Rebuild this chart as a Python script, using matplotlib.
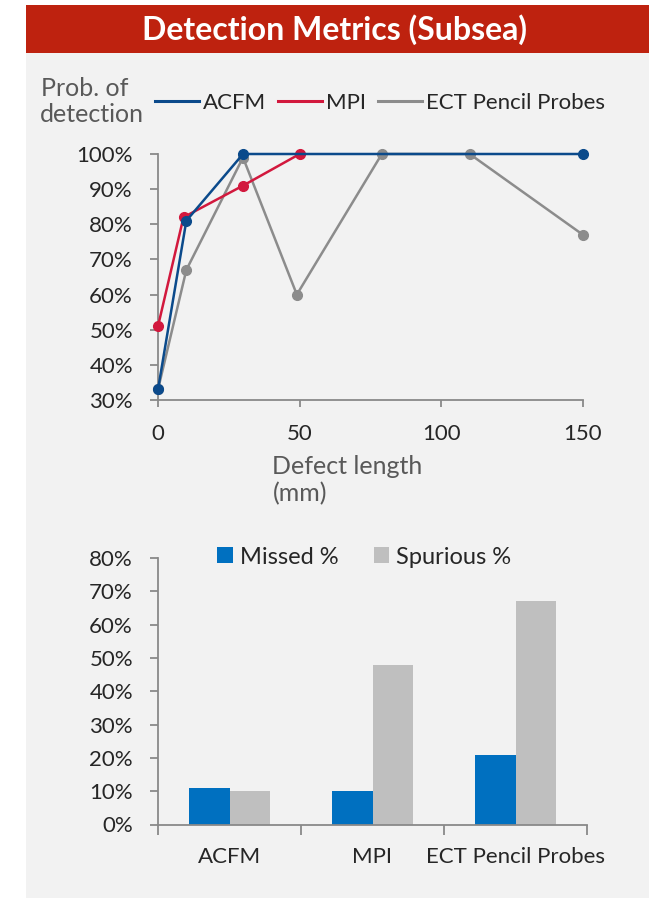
import matplotlib.pyplot as plt
from matplotlib.lines import Line2D
from matplotlib.patches import Rectangle
from matplotlib.ticker import PercentFormatter, FixedLocator

plt.rcParams['font.family'] = ['Lato', 'DejaVu Sans']

# probability of detection vs defect length
acfm_x = [0, 10, 30, 150]
acfm_y = [0.33, 0.81, 1.00, 1.00]
mpi_x = [0, 9, 30, 50]
mpi_y = [0.51, 0.82, 0.91, 1.00]
ect_x = [0, 10, 30, 49, 79, 110, 150]
ect_y = [0.33, 0.67, 0.99, 0.60, 1.00, 1.00, 0.77]

# missed / spurious rates per method
methods = ['ACFM', 'MPI', 'ECT Pencil Probes']
missed = [0.11, 0.10, 0.21]
spurious = [0.10, 0.48, 0.67]

c_acfm = '#0B4A8B'
c_mpi = '#D2183D'
c_ect = '#8C8C8C'
c_missed = '#0070C0'
c_spur = '#BFBFBF'
bg = '#F2F2F2'
axc = '#898989'
txt = '#262626'
lbl = '#595959'

fig = plt.figure(figsize=(6.49, 8.99), dpi=100)
fig.patch.set_facecolor('white')

# panel background and red header
fig.patches.append(Rectangle((26/649, 1-898/899), 623/649, 846/899,
                             transform=fig.transFigure, facecolor=bg,
                             edgecolor='none', zorder=-10))
fig.patches.append(Rectangle((26/649, 1-53/899), 623/649, 48/899,
                             transform=fig.transFigure, facecolor='#BE220F',
                             edgecolor='none', zorder=-10))
fig.text(334/649, 1-30/899, 'Detection Metrics (Subsea)', color='white',
         fontsize=23, fontweight='bold', ha='center', va='center')


def style_axes(ax):
    ax.set_facecolor(bg)
    for s in ['top', 'right']:
        ax.spines[s].set_visible(False)
    for s in ['left', 'bottom']:
        ax.spines[s].set_color(axc)
        ax.spines[s].set_linewidth(1.3)
    ax.tick_params(colors=axc, labelcolor=txt, labelsize=16, width=1.3)


# ---- line chart ----
ax1 = fig.add_axes([158/649, 1-400/899, 425/649, 246/899])
style_axes(ax1)
ax1.set_xlim(0, 150)
ax1.set_ylim(0.30, 1.00)
ax1.set_xticks([0, 50, 100, 150])
ax1.set_yticks([0.3, 0.4, 0.5, 0.6, 0.7, 0.8, 0.9, 1.0])
ax1.yaxis.set_major_formatter(PercentFormatter(1.0, decimals=0))
ax1.tick_params(axis='y', length=6, pad=12)
ax1.tick_params(axis='x', length=5, pad=12)

for xs, ys, c in [(ect_x, ect_y, c_ect), (mpi_x, mpi_y, c_mpi), (acfm_x, acfm_y, c_acfm)]:
    ax1.plot(xs, ys, color=c, lw=1.8, marker='o', ms=7, mec=c, mfc=c, clip_on=False, zorder=3)

handles = [Line2D([], [], color=c_acfm, lw=2.2),
           Line2D([], [], color=c_mpi, lw=2.2),
           Line2D([], [], color=c_ect, lw=2.2)]
fig.legend(handles, ['ACFM', 'MPI', 'ECT Pencil Probes'], ncol=3, frameon=False,
           loc='center left', bbox_to_anchor=(146/649, 1-103/899),
           fontsize=16, handlelength=2.0, handletextpad=0.15, columnspacing=0.55,
           labelcolor=txt, borderaxespad=0)

fig.text(41/649, 1-88/899, 'Prob. of', fontsize=18, color=lbl, ha='left', va='center')
fig.text(40/649, 1-115/899, 'detection', fontsize=18, color=lbl, ha='left', va='center')
fig.text(272/649, 1-467/899, 'Defect length', fontsize=18, color=lbl, ha='left', va='center')
fig.text(273/649, 1-494/899, '(mm)', fontsize=18, color=lbl, ha='left', va='center')

# ---- bar chart ----
ax2 = fig.add_axes([158/649, 1-824.5/899, 429/649, 266.5/899])
style_axes(ax2)
ax2.set_xlim(-0.5, 2.5)
ax2.set_ylim(0, 0.8)
ax2.set_yticks([0.1 * i for i in range(9)])
ax2.yaxis.set_major_formatter(PercentFormatter(1.0, decimals=0))
ax2.tick_params(axis='y', length=6, pad=12)

pos = list(range(len(methods)))
w = 0.285
ax2.bar([p - w / 2 for p in pos], missed, width=w, color=c_missed, label='Missed %', zorder=2)
ax2.bar([p + w / 2 for p in pos], spurious, width=w, color=c_spur, label='Spurious %', zorder=2)
ax2.set_xticks(pos)
ax2.set_xticklabels(methods)
ax2.tick_params(axis='x', which='major', length=0, pad=16)
ax2.xaxis.set_minor_locator(FixedLocator([-0.5, 0.5, 1.5, 2.5]))
ax2.tick_params(axis='x', which='minor', length=7, width=1.3, color=axc)

ax2.legend(ncol=2, frameon=False, loc='center left',
           bbox_to_anchor=(208/649, 1-557/899), bbox_transform=fig.transFigure,
           fontsize=17, handlelength=0.65, handleheight=0.65, handletextpad=0.3,
           columnspacing=1.5, labelcolor=txt, borderaxespad=0)

fig.savefig('out.png', dpi=100, facecolor=fig.get_facecolor())
